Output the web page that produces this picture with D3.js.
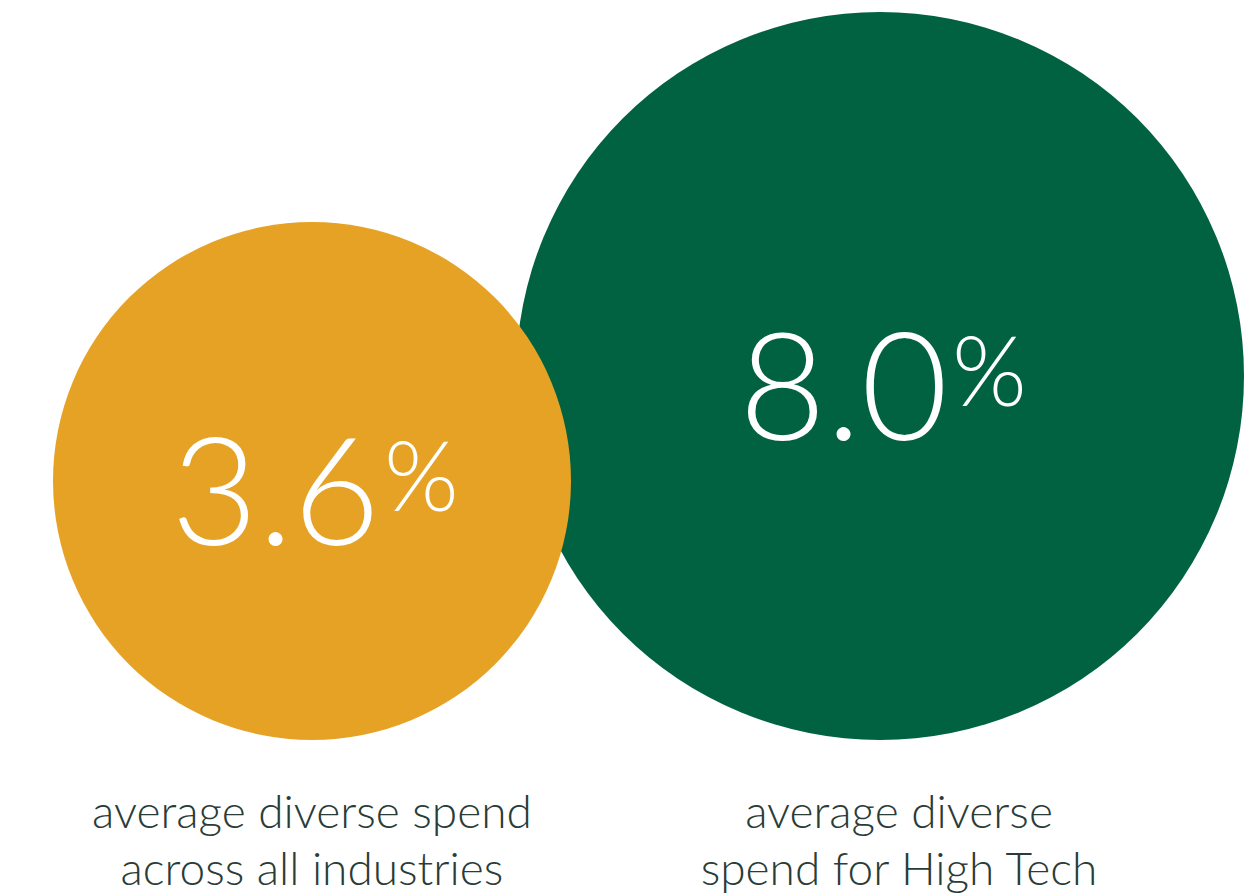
<!DOCTYPE html>
<html><head><meta charset="utf-8">
<script src="https://cdn.jsdelivr.net/npm/d3@7"></script>
<style>html,body{margin:0;padding:0;background:#fff;}</style>
</head><body>
<svg id="chart" width="1259" height="896"></svg>
<script>
const categories = ["average diverse spend across all industries", "average diverse spend for High Tech"];
const labelLines = [["average diverse spend", "across all industries"], ["average diverse", "spend for High Tech"]];
const values = [3.6, 8.0];
const colors = ["#E6A225", "#006241"];

const svg = d3.select("#chart");
const baseY = 740;
const r = d3.scaleLinear().domain([3.6, 8.0]).range([259, 364]);
const cxs = [312, 880];
const data = values.map((v, i) => ({v, i, cat: categories[i], lines: labelLines[i], color: colors[i], cx: cxs[i], r: r(v)}));

// draw larger (green) first so orange overlaps it
const order = data.slice().sort((a, b) => b.v - a.v);
svg.selectAll("circle").data(order).enter().append("circle")
  .attr("cx", d => d.cx).attr("cy", d => baseY - d.r).attr("r", d => d.r)
  .attr("fill", d => d.color);

const fmt = d3.format(".1f");
const vt = svg.selectAll("text.val").data(data).enter().append("text")
  .attr("class", "val")
  .attr("x", d => d.cx + 3).attr("y", d => baseY - d.r + 64)
  .attr("text-anchor", "middle")
  .attr("fill", "#fff")
  .style("font-family", "Lato, 'Open Sans', sans-serif")
  .style("font-weight", 300)
  .style("font-size", "150px");
vt.append("tspan").text(d => fmt(d.v));
vt.append("tspan").text("%").style("font-size", "96px").attr("dy", -34).attr("dx", 4);

const lt = svg.selectAll("text.lab").data(data).enter().append("text")
  .attr("class", "lab")
  .attr("text-anchor", "middle")
  .attr("fill", "#2a3c37")
  .style("font-family", "Lato, 'Open Sans', sans-serif")
  .style("font-weight", 300)
  .style("font-size", "46px");
lt.each(function(d) {
  const t = d3.select(this);
  const x = d.i === 0 ? d.cx : d.cx + 19;
  d.lines.forEach((ln, j) => {
    t.append("tspan").attr("x", x).attr("y", 828 + j * 57).text(ln);
  });
});
</script>
</body></html>
